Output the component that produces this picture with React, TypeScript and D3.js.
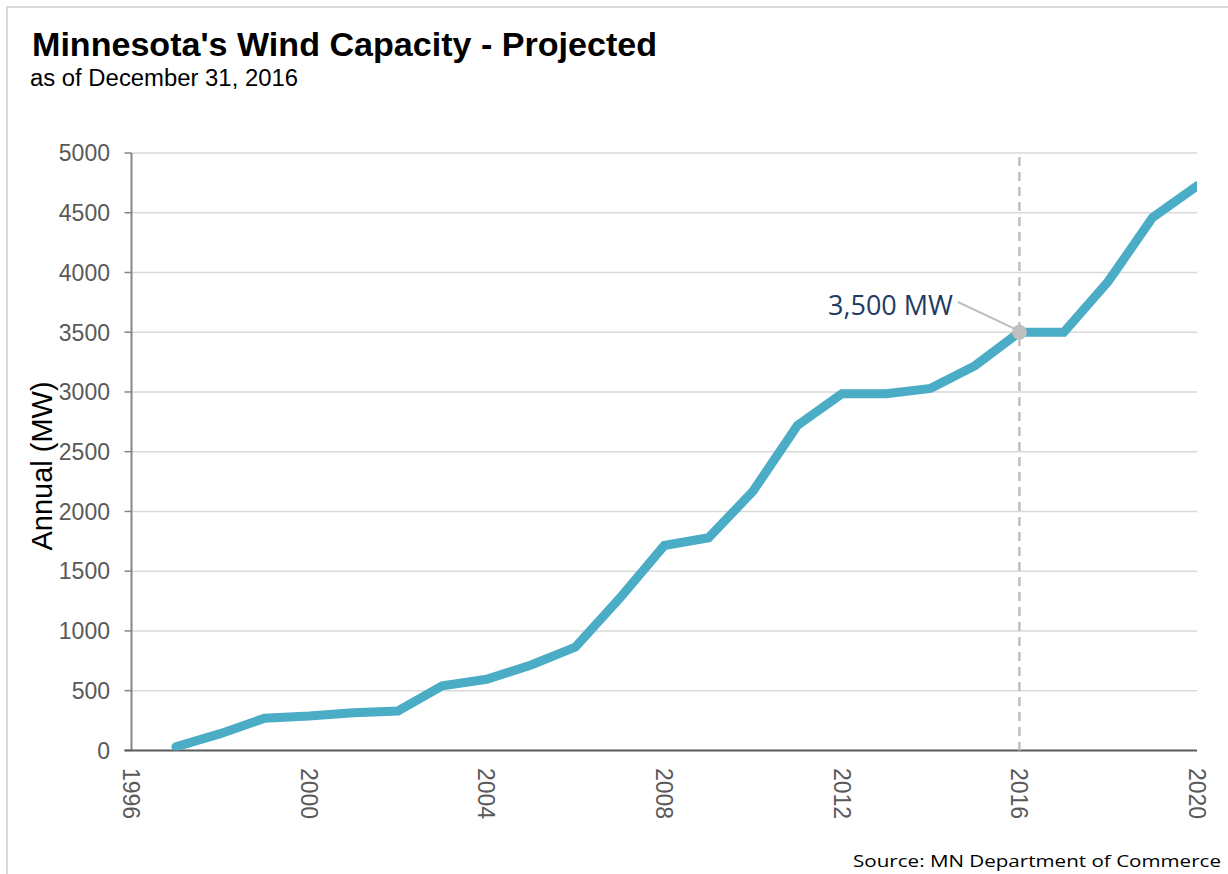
import React from "react";
import * as d3 from "d3";

const years: number[] = [1997, 1998, 1999, 2000, 2001, 2002, 2003, 2004, 2005, 2006, 2007, 2008, 2009, 2010, 2011, 2012, 2013, 2014, 2015, 2016, 2017, 2018, 2019, 2020];
const capacityMW: number[] = [30, 140, 270, 288, 315, 330, 540, 595, 715, 865, 1275, 1715, 1780, 2170, 2720, 2985, 2985, 3030, 3220, 3500, 3500, 3925, 4460, 4725];
const yTicks: number[] = [0, 500, 1000, 1500, 2000, 2500, 3000, 3500, 4000, 4500, 5000];
const xTicks: number[] = [1996, 2000, 2004, 2008, 2012, 2016, 2020];
const markerYear = 2016;
const markerValue = 3500;
const markerLabel = "3,500 MW";

const W = 1228;
const H = 874;

export default function App() {
  const x = d3.scaleLinear().domain([1996, 2020]).range([131.5, 1197]);
  const y = d3.scaleLinear().domain([0, 5000]).range([750.4, 153]);

  const line = d3
    .line<number>()
    .x((_, i) => x(years[i]))
    .y((d) => y(d));

  const axisFont = "'Liberation Sans', Arial, sans-serif";
  const mx = x(markerYear);
  const my = y(markerValue);

  return (
    <svg
      width={W}
      height={H}
      viewBox={`0 0 ${W} ${H}`}
      style={{ position: "absolute", left: 0, top: 0, background: "#fff" }}
    >
      <defs>
        <clipPath id="plot-area">
          <rect x={x(1996)} y={y(5000) - 20} width={x(2020) - x(1996)} height={y(0) - y(5000) + 20} />
        </clipPath>
      </defs>

      {/* outer frame */}
      <rect x={7} y={7} width={W + 20} height={H + 20} fill="#fff" stroke="#d9d9d9" strokeWidth={2} />

      {/* titles */}
      <text x={32} y={56} fontFamily={axisFont} fontWeight="bold" fontSize={34} fill="#000" textLength={625} lengthAdjust="spacingAndGlyphs">
        Minnesota's Wind Capacity - Projected
      </text>
      <text x={30} y={86} fontFamily={axisFont} fontSize={23.5} fill="#000" textLength={268} lengthAdjust="spacingAndGlyphs">
        as of December 31, 2016
      </text>

      {/* gridlines */}
      {yTicks.filter((t) => t > 0).map((t) => (
        <line key={`g${t}`} x1={x(1996)} x2={x(2020)} y1={y(t)} y2={y(t)} stroke="#d9d9d9" strokeWidth={1.5} />
      ))}

      {/* y axis */}
      <line x1={x(1996)} x2={x(1996)} y1={y(5000)} y2={y(0)} stroke="#868686" strokeWidth={2} />
      {yTicks.map((t) => (
        <g key={`yt${t}`}>
          <line x1={x(1996) - 7} x2={x(1996)} y1={y(t)} y2={y(t)} stroke="#868686" strokeWidth={1.5} />
          <text x={110} y={y(t)} dy="0.36em" textAnchor="end" fontFamily={axisFont} fontSize={23} fill="#595959">
            {t}
          </text>
        </g>
      ))}
      <text
        transform={`translate(52, 466) rotate(-90)`}
        textAnchor="middle"
        fontFamily={axisFont}
        fontSize={29}
        fill="#000"
      >
        Annual (MW)
      </text>

      {/* x axis */}
      <line x1={x(1996) - 7} x2={x(2020)} y1={y(0)} y2={y(0)} stroke="#595959" strokeWidth={2} />
      {xTicks.map((t) => (
        <text
          key={`xt${t}`}
          transform={`translate(${x(t)}, 768) rotate(90)`}
          dy="0.36em"
          textAnchor="start"
          fontFamily={axisFont}
          fontSize={23}
          fill="#595959"
        >
          {t}
        </text>
      ))}

      {/* 2016 reference line */}
      <line x1={mx} x2={mx} y1={157} y2={y(0)} stroke="#bfbfbf" strokeWidth={2.5} strokeDasharray="9,6" />

      {/* capacity line */}
      <path
        d={line(capacityMW) ?? ""}
        fill="none"
        stroke="#4bacc6"
        strokeWidth={9}
        strokeLinejoin="miter"
        strokeLinecap="round"
        clipPath="url(#plot-area)"
      />

      {/* marker and label */}
      <line x1={958} y1={302} x2={mx - 4} y2={my - 3} stroke="#bfbfbf" strokeWidth={2} />
      <circle cx={mx} cy={my} r={7.5} fill="#bfbfbf" />
      <text x={953} y={315} textAnchor="end" fontFamily="'Open Sans', sans-serif" fontSize={27} fill="#1f3b63">
        {markerLabel}
      </text>

      {/* source */}
      <text x={1221} y={867} textAnchor="end" fontFamily="'Open Sans', sans-serif" fontSize={16.5} fill="#000" textLength={368} lengthAdjust="spacingAndGlyphs">
        Source: MN Department of Commerce
      </text>
    </svg>
  );
}
